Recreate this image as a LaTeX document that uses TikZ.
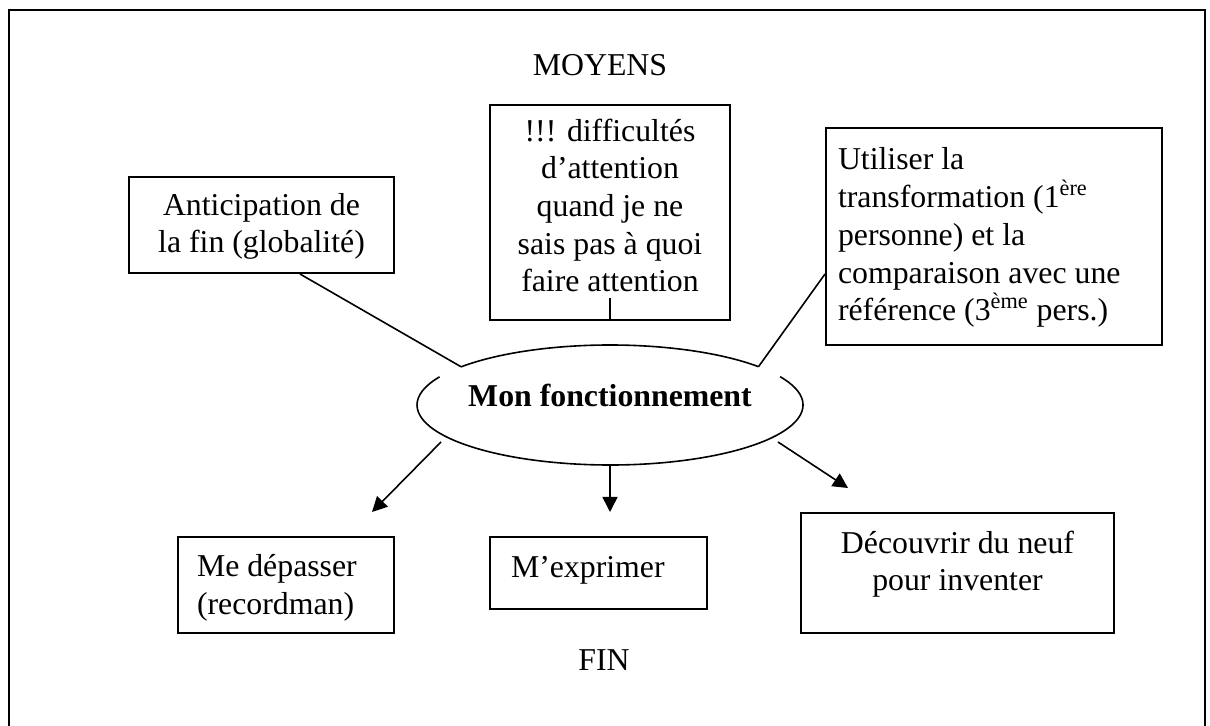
\documentclass[tikz,border=0pt]{standalone}
\usepackage{fontspec}
\setmainfont{Liberation Serif}
\usetikzlibrary{arrows.meta,calc,shapes.geometric}
\begin{document}
\begin{tikzpicture}[x=0.5pt,y=-0.5pt,
  txt/.style={font=\fontsize{15.9}{18.85}\selectfont},
  box/.style={draw,line width=1pt,inner sep=0pt,txt},
  link/.style={line width=0.8pt},
  arr/.style={line width=0.8pt,-{Triangle[length=7.5pt,width=7.5pt]}}]
\useasboundingbox (0,0) rectangle (1210,726);
\draw[line width=1pt] (9,726) -- (9,10) -- (1205,10) -- (1205,726);

\node[txt,anchor=base] (moy) at (600,76) {MOYENS};

\node[box,minimum width=132.5pt,minimum height=48pt,align=center,text height=38pt,text depth=10pt] (ant) at (261.5,225) {Anticipation de\\la fin (globalité)};

\node[box,minimum width=120pt,minimum height=107.5pt,align=center,text height=90pt,text depth=10.5pt] (mid) at (610,212.5) {!!! difficultés\\d’attention\\quand je ne\\sais pas à quoi\\faire attention};

\node[box,minimum width=168pt,minimum height=108.5pt,inner xsep=6pt,text width=156pt,align=flush left,text height=11pt,text depth=77.5pt] (uti) at (994,236.5) {Utiliser la\\transformation (1\textsuperscript{ère}\\personne) et la\\comparaison avec une\\référence (3\textsuperscript{ème} pers.)};

\node[ellipse,minimum width=193pt,minimum height=60pt,inner sep=0pt,font=\fontsize{15.9}{18.85}\selectfont\bfseries,text height=11pt,text depth=9pt] (mf) at (610,405) {Mon fonctionnement};

\node[box,minimum width=108pt,minimum height=48pt,inner xsep=9.5pt,text width=89pt,align=flush left,text height=11pt,text depth=19pt] (md) at (286,585) {Me dépasser\\(recordman)};

\node[box,minimum width=108.5pt,minimum height=36pt,inner xsep=10.5pt,text width=87.5pt,align=flush left,text height=11pt,text depth=6pt] (me) at (598.5,573) {M’exprimer};

\node[box,minimum width=156.5pt,minimum height=60pt,align=center,text height=30pt,text depth=12pt] (dec) at (957.5,573) {Découvrir du neuf\\pour inventer};

\node[txt,anchor=base] (fin) at (604,670) {FIN};

% ellipse outline drawn in two arcs (gaps where the lines meet it)
\draw[link] ($(mf.center)+(-140.5:193 and 60)$) arc[start angle=-140.5,end angle=-39.7,x radius=193,y radius=60];
\draw[link] ($(mf.center)+(-28.2:193 and 60)$) arc[start angle=-28.2,end angle=208,x radius=193,y radius=60];

% connectors from the upper boxes
\draw[link] ($(ant.south)+(38.5,0)$) -- ($(mf.center)+(-148.9,-38.2)$);
\draw[link] ($(uti.west)+(0,37.5)$) -- ($(mf.center)+(148.5,-38.3)$);
\draw[link] (mid.south) -- ++(0,-23);

% arrows downward
\coordinate (tl) at (372,512);
\coordinate (tm) at (610,512);
\coordinate (tr) at (848,488);
\draw[arr] ($(mf.center)+(-169,37)$) -- (tl);
\draw[arr] (mf.south) -- (tm);
\draw[arr] ($(mf.center)+(168,37)$) -- (tr);
\end{tikzpicture}
\end{document}
